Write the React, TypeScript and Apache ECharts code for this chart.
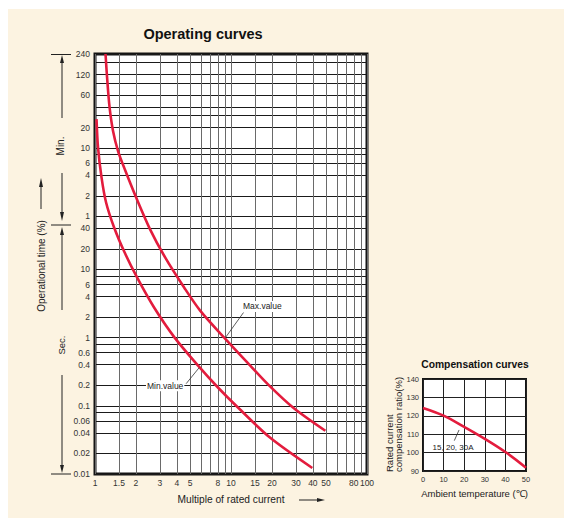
import React, { useEffect, useRef } from 'react';
import * as echarts from 'echarts';

// ---------- data ----------
// Main chart: multiple of rated current (log) vs operating time (log, stored in seconds)
const xLabelValues = [1, 1.5, 2, 3, 4, 5, 8, 10, 15, 20, 30, 40, 50, 80, 100];
const xGridValues = [1, 1.5, 2, 3, 4, 5, 6, 7, 8, 9, 10, 15, 20, 30, 40, 50, 60, 70, 80, 90, 100];
const yMinuteLabels = [240, 120, 60, 20, 10, 6, 4, 2, 1];
const ySecondLabels = [40, 20, 10, 6, 4, 2, 1, 0.6, 0.4, 0.2, 0.1, 0.06, 0.04, 0.02, 0.01];
const yMinuteGrid = [240, 180, 120, 90, 60, 40, 30, 20, 10, 8, 6, 4, 2, 1];
const ySecondGrid = [40, 20, 10, 8, 6, 4, 2, 1, 0.8, 0.6, 0.4, 0.2, 0.1, 0.08, 0.06, 0.04, 0.02, 0.01];

// [multiple of rated current, operating time in seconds]
const maxCurve: [number, number][] = [
  [1.195, 14400], [1.226, 6660], [1.279, 2410], [1.357, 1070], [1.477, 543], [1.664, 286],
  [2.004, 114], [2.541, 38.7], [3.278, 15.0], [4.523, 5.43], [5.932, 2.49], [8.911, 1.0],
  [13.85, 0.388], [18.79, 0.204], [28.71, 0.0935], [49.4, 0.043],
];
const minCurve: [number, number][] = [
  [1.026, 1600], [1.052, 622], [1.116, 225], [1.205, 96.6], [1.38, 41.5], [1.649, 17.8],
  [2.038, 7.63], [2.72, 2.76], [3.85, 1.0], [5.73, 0.388], [8.05, 0.184], [11.3, 0.0935],
  [19.44, 0.0339], [39.6, 0.01225],
];

// Inset: compensation curve
const tempValues = [0, 10, 20, 30, 40, 50];
const compRatio = [124.3, 120.1, 114, 107.5, 100.3, 91.8];

// annotations (data coordinates)
const maxLabelAt: [number, number] = [17, 2.86];
const maxLeader: [number, number][] = [[9.1, 1.0], [12.36, 2.33]];
const minLabelAt: [number, number] = [3.28, 0.197];
const minLeader: [number, number][] = [[4.68, 0.211], [5.83, 0.362]];
const insetLabelAt: [number, number] = [14.6, 103];
const insetLeader: [number, number][] = [[15.2, 106.5], [17.5, 112.3]];

const FONT = "'Liberation Sans', Arial, Helvetica, sans-serif";
const RED = '#e31c3d';
const INK = '#222';

function fmtNum(v: number): string {
  return String(Number(Number(v).toPrecision(6)));
}

export default function App() {
  const ref = useRef<HTMLDivElement>(null);

  useEffect(() => {
    if (!ref.current) return;
    const chart = echarts.init(ref.current, null, { renderer: 'svg' });

    const yLabelValues = [...yMinuteLabels.map((m) => m * 60), ...ySecondLabels];
    const yGridValues = [...yMinuteGrid.map((m) => m * 60), ...ySecondGrid];

    const line = (x1: number, y1: number, x2: number, y2: number) => ({
      type: 'line',
      shape: { x1, y1, x2, y2 },
      style: { stroke: INK, lineWidth: 1 },
      silent: true,
    });
    const tri = (pts: number[][]) => ({
      type: 'polygon',
      shape: { points: pts },
      style: { fill: INK },
      silent: true,
    });
    const vtext = (text: string, x: number, y: number, size: number, align = 'center') => ({
      type: 'text',
      x,
      y,
      rotation: Math.PI / 2,
      style: {
        text,
        fontSize: size,
        fontFamily: FONT,
        fill: INK,
        align,
        verticalAlign: 'middle',
        lineHeight: size,
      },
      silent: true,
    });

    const annoLabel = (text: string, size: number) => ({
      show: true,
      position: 'inside',
      formatter: text,
      fontSize: size,
      color: INK,
      backgroundColor: '#fff',
      padding: [1, 1],
    });

    const option: any = {
      animation: false,
      backgroundColor: 'transparent',
      textStyle: { fontFamily: FONT },
      title: [
        {
          text: 'Operating curves',
          left: 203,
          top: 26,
          textAlign: 'center',
          padding: 0,
          textStyle: { fontSize: 14.5, fontWeight: 'bold', color: '#111', fontFamily: FONT },
        },
        {
          text: 'Compensation curves',
          left: 475,
          top: 359,
          textAlign: 'center',
          padding: 0,
          textStyle: { fontSize: 10.3, fontWeight: 'bold', color: '#111', fontFamily: FONT },
        },
      ],
      grid: [
        {
          left: 95, top: 54, width: 272, height: 420,
          show: true, backgroundColor: '#fff', borderColor: '#151515', borderWidth: 3,
        },
        {
          left: 423, top: 379, width: 103, height: 92,
          show: true, backgroundColor: '#fff', borderColor: '#151515', borderWidth: 2,
        },
      ],
      xAxis: [
        {
          type: 'log',
          logBase: 10,
          gridIndex: 0,
          min: 1,
          max: 100,
          name: 'Multiple of rated current',
          nameLocation: 'middle',
          nameGap: 20,
          nameTextStyle: { fontSize: 10.2, color: INK, fontFamily: FONT },
          axisLine: { show: false },
          axisTick: { show: false, customValues: xGridValues },
          axisLabel: {
            customValues: xLabelValues,
            formatter: (v: number) => fmtNum(v),
            fontSize: 8.5,
            color: '#333',
            margin: 4,
          },
          splitLine: { show: true, lineStyle: { color: '#6a6a6a', width: 1 } },
          minorSplitLine: { show: false },
        },
        {
          type: 'value',
          gridIndex: 1,
          min: 0,
          max: 50,
          interval: 10,
          name: 'Ambient temperature (℃)',
          nameLocation: 'middle',
          nameGap: 17,
          nameTextStyle: { fontSize: 9.5, color: INK, fontFamily: FONT },
          axisLine: { show: false },
          axisTick: { show: false },
          axisLabel: { fontSize: 7.5, color: '#333', margin: 4 },
          splitLine: { show: true, lineStyle: { color: '#222', width: 1 } },
        },
      ],
      yAxis: [
        {
          type: 'log',
          logBase: 10,
          gridIndex: 0,
          min: 0.01,
          max: 14400,
          axisLine: { show: false },
          axisTick: { show: false, customValues: yGridValues },
          axisLabel: {
            customValues: yLabelValues,
            formatter: (v: number) => (v >= 60 ? fmtNum(v / 60) : fmtNum(v)),
            fontSize: 8.5,
            color: '#333',
            margin: 5,
          },
          splitLine: { show: true, lineStyle: { color: '#1a1a1a', width: 1.2 } },
          minorSplitLine: { show: false },
        },
        {
          type: 'value',
          gridIndex: 1,
          min: 90,
          max: 140,
          interval: 10,
          axisLine: { show: false },
          axisTick: { show: false },
          axisLabel: { fontSize: 7.5, color: '#333', margin: 4 },
          splitLine: { show: true, lineStyle: { color: '#222', width: 1 } },
        },
      ],
      series: [
        {
          name: 'Max.value',
          type: 'line',
          xAxisIndex: 0,
          yAxisIndex: 0,
          data: maxCurve,
          smooth: 0.3,
          symbol: 'none',
          lineStyle: { color: RED, width: 2.6 },
          markLine: {
            silent: true,
            symbol: ['none', 'none'],
            label: { show: false },
            lineStyle: { color: '#333', width: 0.8, type: 'solid' },
            data: [[{ coord: maxLeader[0] }, { coord: maxLeader[1] }]],
          },
          markPoint: {
            silent: true,
            symbol: 'circle',
            symbolSize: 0,
            data: [{ coord: maxLabelAt, value: 'Max.value' }],
            label: annoLabel('Max.value', 8.5),
          },
        },
        {
          name: 'Min.value',
          type: 'line',
          xAxisIndex: 0,
          yAxisIndex: 0,
          data: minCurve,
          smooth: 0.3,
          symbol: 'none',
          lineStyle: { color: RED, width: 2.6 },
          markLine: {
            silent: true,
            symbol: ['none', 'none'],
            label: { show: false },
            lineStyle: { color: '#333', width: 0.8, type: 'solid' },
            data: [[{ coord: minLeader[0] }, { coord: minLeader[1] }]],
          },
          markPoint: {
            silent: true,
            symbol: 'circle',
            symbolSize: 0,
            data: [{ coord: minLabelAt, value: 'Min.value' }],
            label: annoLabel('Min.value', 8.5),
          },
        },
        {
          name: '15, 20, 30A',
          type: 'line',
          xAxisIndex: 1,
          yAxisIndex: 1,
          data: tempValues.map((t, i) => [t, compRatio[i]]),
          smooth: 0.4,
          symbol: 'none',
          lineStyle: { color: RED, width: 2.6 },
          markLine: {
            silent: true,
            symbol: ['none', 'none'],
            label: { show: false },
            lineStyle: { color: '#333', width: 0.8, type: 'solid' },
            data: [[{ coord: insetLeader[0] }, { coord: insetLeader[1] }]],
          },
          markPoint: {
            silent: true,
            symbol: 'circle',
            symbolSize: 0,
            data: [{ coord: insetLabelAt, value: '15, 20, 30A' }],
            label: { show: true, position: 'inside', formatter: '15, 20, 30A', fontSize: 8, color: INK },
          },
        },
      ],
      graphic: [
        // y-axis bracket for minutes / seconds
        line(51, 54.5, 71, 54.5),
        tri([[62, 55], [60, 63], [64, 63]]),
        line(62, 62, 62, 118),
        line(62, 173, 62, 213),
        tri([[62, 221], [60, 212], [64, 212]]),
        line(51, 225, 71, 225),
        tri([[62, 227], [60, 235], [64, 235]]),
        line(62, 234, 62, 310),
        line(62, 375, 62, 466),
        tri([[62, 473], [60, 465], [64, 465]]),
        line(51, 474, 71, 474),
        vtext('Min.', 60, 146, 10),
        vtext('Sec.', 61, 345, 9.5),
        // axis title
        vtext('Operational time (%)', 41, 266, 10),
        line(41, 209, 41, 186),
        tri([[41, 178], [39, 187], [43, 187]]),
        // x-axis arrow
        line(299, 500, 318, 500),
        tri([[325, 500], [317, 498], [317, 502]]),
        // inset y-axis title
        vtext('Rated current\ncompensation ratio(%)', 394, 472, 9.5, 'left'),
      ],
    };

    chart.setOption(option);
    return () => chart.dispose();
  }, []);

  return (
    <div style={{ position: 'fixed', left: 0, top: 0, width: 564, height: 518, background: '#fff' }}>
      <div style={{ position: 'absolute', left: 8, top: 9, right: 0, bottom: 0, background: '#fcf3e1' }} />
      <div ref={ref} style={{ position: 'absolute', left: 0, top: 0, width: 564, height: 518 }} />
    </div>
  );
}
